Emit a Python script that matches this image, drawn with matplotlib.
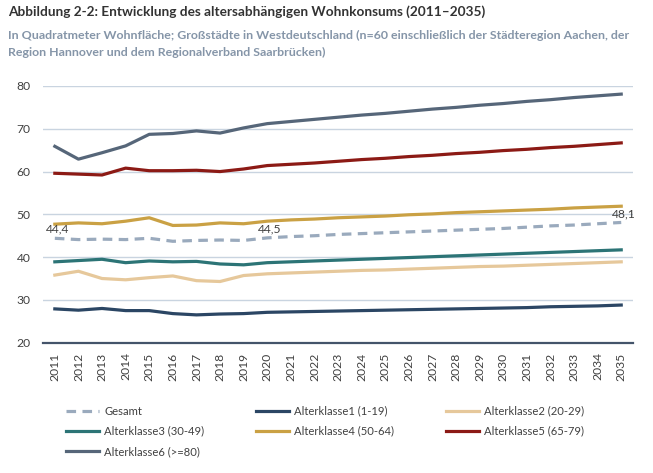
import matplotlib
matplotlib.use("Agg")
import matplotlib.pyplot as plt
from matplotlib.lines import Line2D

plt.rcParams['font.family'] = ['Lato', 'DejaVu Sans']

years = list(range(2011, 2036))

gesamt = [44.4, 44.1, 44.2, 44.1, 44.4, 43.7, 43.9, 44.0, 43.9, 44.5, 44.8, 45.0, 45.3,
          45.5, 45.7, 45.9, 46.1, 46.3, 46.5, 46.7, 47.0, 47.3, 47.5, 47.8, 48.1]
ak1 = [27.9, 27.6, 28.0, 27.5, 27.5, 26.8, 26.5, 26.7, 26.8, 27.1, 27.2, 27.3, 27.4,
       27.5, 27.6, 27.7, 27.8, 27.9, 28.0, 28.1, 28.2, 28.4, 28.5, 28.6, 28.8]
ak2 = [35.8, 36.7, 35.0, 34.7, 35.2, 35.6, 34.5, 34.3, 35.7, 36.1, 36.3, 36.5, 36.7,
       36.9, 37.0, 37.2, 37.4, 37.6, 37.8, 37.9, 38.1, 38.3, 38.5, 38.7, 38.9]
ak3 = [38.9, 39.2, 39.5, 38.7, 39.1, 38.9, 39.0, 38.4, 38.2, 38.7, 38.9, 39.1, 39.3,
       39.5, 39.7, 39.9, 40.1, 40.3, 40.5, 40.7, 40.9, 41.1, 41.3, 41.5, 41.7]
ak4 = [47.7, 48.0, 47.8, 48.4, 49.2, 47.4, 47.5, 48.0, 47.8, 48.4, 48.7, 48.9, 49.2,
       49.4, 49.6, 49.9, 50.1, 50.4, 50.6, 50.8, 51.0, 51.2, 51.5, 51.7, 51.9]
ak5 = [59.6, 59.4, 59.2, 60.8, 60.2, 60.2, 60.3, 60.0, 60.6, 61.4, 61.7, 62.0, 62.4,
       62.8, 63.1, 63.5, 63.8, 64.2, 64.5, 64.9, 65.2, 65.6, 65.9, 66.3, 66.7]
ak6 = [65.9, 62.9, 64.4, 66.0, 68.7, 68.9, 69.5, 69.0, 70.2, 71.2, 71.7, 72.2, 72.7,
       73.2, 73.6, 74.1, 74.6, 75.0, 75.5, 75.9, 76.4, 76.8, 77.3, 77.7, 78.1]

series_labels = ["Gesamt", "Alterklasse1 (1-19)", "Alterklasse2 (20-29)",
                 "Alterklasse3 (30-49)", "Alterklasse4 (50-64)", "Alterklasse5 (65-79)",
                 "Alterklasse6 (>=80)"]
annot_years = [2011, 2020, 2035]
annot_texts = ["44,4", "44,5", "48,1"]

title = "Abbildung 2-2: Entwicklung des altersabhängigen Wohnkonsums (2011–2035)"
subtitle = ("In Quadratmeter Wohnfläche; Großstädte in Westdeutschland (n=60 einschließlich der Städteregion Aachen, der\n"
            "Region Hannover und dem Regionalverband Saarbrücken)")

colors = {
    "g": "#9aaabd", "a1": "#2b4664", "a2": "#e6c89b", "a3": "#2c7476",
    "a4": "#caa144", "a5": "#8c1a15", "a6": "#566679",
}

fig = plt.figure(figsize=(6.53, 4.73), dpi=100)
ax = fig.add_axes([0.0659, 0.2755, 0.9035, 0.5427])

lw = 2.3
dash = (0, (3, 2))
styles = [
    (gesamt, colors["g"], dash, 4),
    (ak1, colors["a1"], "-", 3),
    (ak2, colors["a2"], "-", 3),
    (ak3, colors["a3"], "-", 3),
    (ak4, colors["a4"], "-", 3),
    (ak5, colors["a5"], "-", 3),
    (ak6, colors["a6"], "-", 3),
]
handles = []
for data, c, ls, z in styles:
    h, = ax.plot(years, data, color=c, lw=lw, ls=ls, zorder=z)
    handles.append(h)

for yr, t in zip(annot_years, annot_texts):
    v = gesamt[years.index(yr)]
    ax.annotate(t, (yr, v), xytext=(2, 2.5), textcoords="offset points",
                ha="center", va="bottom", fontsize=8.7, color="#404040", zorder=5)

ax.set_xlim(2010.5, 2035.5)
ax.set_ylim(20, 80)
ax.set_yticks(range(20, 81, 10))
ax.set_xticks(years)
ax.set_xticklabels([str(y) for y in years], rotation=90)
ax.tick_params(axis='both', length=0, labelsize=8.7, colors="#404040")
ax.tick_params(axis='x', pad=7)
ax.tick_params(axis='y', pad=9)
ax.grid(axis='y', color="#c9d4e0", lw=1.0)
ax.set_axisbelow(True)
for s in ["top", "right", "left"]:
    ax.spines[s].set_visible(False)
ax.spines["bottom"].set_color("#44546a")
ax.spines["bottom"].set_linewidth(1.6)
ax.spines["bottom"].set_zorder(6)

fig.text(0.012, 0.988, title, fontsize=9.8, fontweight="bold", color="#333333",
         ha="left", va="top")
fig.text(0.012, 0.937, subtitle, fontsize=8.9, fontweight="bold", color="#8595a8",
         ha="left", va="top", linespacing=1.7)

# legend: three columns, filled row by row
col_x = [66 / 653, 256 / 653, 446 / 653]
cols = [[0, 3, 6], [1, 4], [2, 5]]
leg_top = 1 - 405.5 / 473
for cx, idxs in zip(col_x, cols):
    leg = fig.legend([handles[i] for i in idxs], [series_labels[i] for i in idxs],
                     loc="upper left", bbox_to_anchor=(cx, leg_top),
                     bbox_transform=fig.transFigure, frameon=False, fontsize=8.1,
                     handlelength=2.95, handletextpad=0.45, labelspacing=0.82,
                     borderpad=0, borderaxespad=0)
    for t in leg.get_texts():
        t.set_color("#404040")

fig.savefig("out.png", dpi=100)
